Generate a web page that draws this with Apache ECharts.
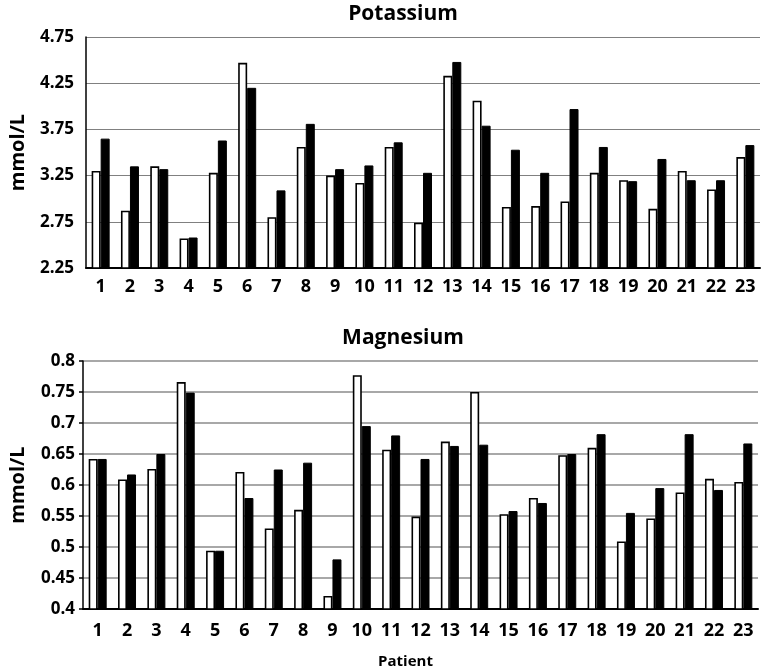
<!DOCTYPE html>
<html>
<head>
<meta charset="utf-8">
<script src="https://cdn.jsdelivr.net/npm/echarts@6/dist/echarts.min.js"></script>
<style>
html,body{margin:0;padding:0;background:#fff;}
#c{width:764px;height:670px;}
</style>
</head>
<body>
<div id="c"></div>
<script>
const patients = ['1','2','3','4','5','6','7','8','9','10','11','12','13','14','15','16','17','18','19','20','21','22','23'];
const potassiumWhite = [3.30,2.87,3.35,2.57,3.28,4.47,2.80,3.56,3.25,3.17,3.56,2.74,4.33,4.06,2.91,2.92,2.97,3.28,3.20,2.89,3.30,3.10,3.45];
const potassiumBlack = [3.65,3.35,3.32,2.58,3.63,4.20,3.09,3.81,3.32,3.36,3.61,3.28,4.48,3.79,3.53,3.28,3.97,3.56,3.19,3.43,3.20,3.20,3.58];
const magnesiumWhite = [0.642,0.609,0.626,0.766,0.494,0.621,0.530,0.560,0.421,0.777,0.657,0.549,0.670,0.750,0.553,0.579,0.648,0.660,0.509,0.546,0.588,0.610,0.605];
const magnesiumBlack = [0.642,0.617,0.650,0.749,0.494,0.579,0.625,0.636,0.480,0.695,0.680,0.642,0.663,0.665,0.558,0.571,0.650,0.682,0.555,0.595,0.682,0.592,0.667];
const potassiumTicks = [2.25,2.75,3.25,3.75,4.25,4.75];
const magnesiumTicks = [0.4,0.45,0.5,0.55,0.6,0.65,0.7,0.75,0.8];

const FONT = '"Open Sans"';
const chart = echarts.init(document.getElementById('c'), null, {renderer:'canvas'});

function yAxisCfg(ticks, gridIndex, opts) {
  return Object.assign({
    type: 'value',
    gridIndex: gridIndex,
    min: ticks[0],
    max: ticks[ticks.length-1],
    interval: +(ticks[1]-ticks[0]).toFixed(4),
    name: 'mmol/L',
    nameLocation: 'middle',
    nameRotate: 90,
    nameTextStyle: {fontFamily: FONT, fontWeight: 'bold', fontSize: 20, color: '#000'},
    axisLine: {show: true, lineStyle: {color: '#000', width: 1.5}},
  }, opts);
}

const whiteStyle = {color: '#fff', borderColor: '#000', borderWidth: 1.6};
const blackStyle = {color: '#000', borderColor: '#000', borderWidth: 1};
const tickFont = {fontFamily: FONT, fontWeight: 'bold', fontSize: 17, color: '#000'};
const catFont = {fontFamily: FONT, fontWeight: 'bold', fontSize: 18, color: '#000'};

chart.setOption({
  animation: false,
  backgroundColor: '#fff',
  title: [
    {text: 'Potassium', left: 398, top: -1, textAlign: 'center',
     textStyle: {fontFamily: FONT, fontWeight: 'bold', fontSize: 21, color: '#000'}},
    {text: 'Magnesium', left: 398, top: 323, textAlign: 'center',
     textStyle: {fontFamily: FONT, fontWeight: 'bold', fontSize: 21, color: '#000'}}
  ],
  grid: [
    {left: 83, right: 4, top: 37, height: 231},
    {left: 78, right: 6, top: 361, height: 254}
  ],
  xAxis: [
    {type: 'category', gridIndex: 0, data: patients,
     axisTick: {show: false},
     axisLine: {lineStyle: {color: '#000', width: 2}},
     axisLabel: Object.assign({margin: 10, interval: 0}, catFont)},
    {type: 'category', gridIndex: 1, data: patients,
     axisTick: {show: false},
     axisLine: {lineStyle: {color: '#000', width: 2}},
     axisLabel: Object.assign({margin: 13, interval: 0}, catFont),
     name: 'Patient', nameLocation: 'middle', nameGap: 45,
     nameTextStyle: {fontFamily: FONT, fontWeight: 'bold', fontSize: 15, color: '#000', padding: [0, 30, 0, 0]}}
  ],
  yAxis: [
    yAxisCfg(potassiumTicks, 0, {
      nameGap: 58,
      axisTick: {show: false},
      axisLabel: Object.assign({margin: 12, formatter: v => v.toFixed(2)}, tickFont),
      splitLine: {lineStyle: {color: '#808080', width: 1}}
    }),
    yAxisCfg(magnesiumTicks, 1, {
      nameGap: 55,
      axisTick: {show: true, inside: false, length: 4, lineStyle: {color: '#000', width: 1.5}},
      axisLabel: Object.assign({margin: 8, formatter: v => String(parseFloat(v.toFixed(2)))}, tickFont),
      splitLine: {lineStyle: {color: '#a8a8a8', width: 2}}
    })
  ],
  series: [
    {type: 'bar', xAxisIndex: 0, yAxisIndex: 0, data: potassiumWhite, barWidth: 9, barGap: '0%', itemStyle: whiteStyle},
    {type: 'bar', xAxisIndex: 0, yAxisIndex: 0, data: potassiumBlack, barWidth: 9, barGap: '0%', itemStyle: blackStyle},
    {type: 'bar', xAxisIndex: 1, yAxisIndex: 1, data: magnesiumWhite, barWidth: 9, barGap: '0%', itemStyle: whiteStyle},
    {type: 'bar', xAxisIndex: 1, yAxisIndex: 1, data: magnesiumBlack, barWidth: 9, barGap: '0%', itemStyle: blackStyle}
  ]
});
</script>
</body>
</html>
